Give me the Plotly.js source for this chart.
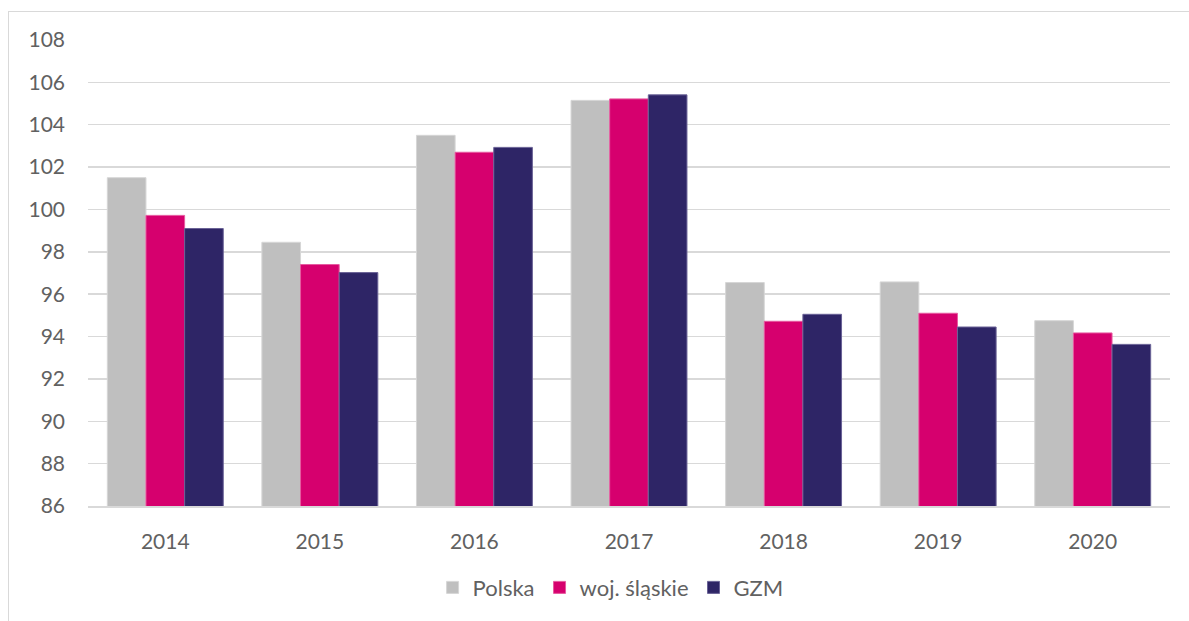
<!DOCTYPE html>
<html><head><meta charset="utf-8">
<script src="https://cdn.plot.ly/plotly-3.0.1.min.js"></script>
<style>
html,body{margin:0;padding:0;background:#fff;}
#frame{position:absolute;left:8px;top:11px;width:1200px;height:640px;border:1px solid #d9d9d9;box-sizing:border-box;}
#chart{position:absolute;left:0;top:0;width:1189px;height:621px;}
</style></head>
<body>
<div id="frame"></div>
<div id="chart"></div>
<script>
const years = ['2014','2015','2016','2017','2018','2019','2020'];
const polska = [101.5, 98.45, 103.5, 105.15, 96.55, 96.58, 94.75];
const slaskie = [99.72, 97.4, 102.7, 105.22, 94.72, 95.1, 94.17];
const gzm = [99.1, 97.02, 102.93, 105.41, 95.05, 94.45, 93.63];
const names = ['Polska', 'woj. śląskie', 'GZM'];
const colors = ['#BFBFBF', '#D6006E', '#2E2566'];
const lines = ['#d6d6d6', '#e65aa0', '#6a6296'];

const series = [polska, slaskie, gzm];
const traces = series.map((v, i) => ({
  type: 'bar', x: years, y: v, name: names[i],
  marker: {color: colors[i], line: {color: lines[i], width: 1}},
  hoverinfo: 'skip'
}));

const fam = 'Lato, "Open Sans", sans-serif';
const txt = '#616161';
const layout = {
  width: 1189, height: 621,
  margin: {l: 88, r: 19, t: 40, b: 113},
  paper_bgcolor: 'rgba(0,0,0,0)', plot_bgcolor: 'rgba(0,0,0,0)',
  font: {family: fam, color: txt, size: 20},
  barmode: 'group', bargap: 0.25, bargroupgap: 0,
  showlegend: true,
  legend: {orientation: 'h', x: 0.483, xanchor: 'center', y: -0.13, yanchor: 'top',
           font: {family: fam, size: 22, color: txt}, traceorder: 'normal',
           itemwidth: 16, tracegroupgap: 0},
  xaxis: {type: 'category', showgrid: false, showline: true, linecolor: '#d9d9d9', linewidth: 1.5,
          ticks: '', tickfont: {size: 21, color: txt, family: fam}, ticklabelstandoff: 16},
  yaxis: {range: [86, 108], dtick: 2, tick0: 86, showgrid: true, gridcolor: '#d9d9d9', gridwidth: 1.5,
          zeroline: false, showline: false, ticks: '', ticklabelstandoff: 22,
          tickfont: {size: 21, color: txt, family: fam}}
};
Plotly.newPlot('chart', traces, layout, {staticPlot: true, displayModeBar: false});
</script>
</body></html>
